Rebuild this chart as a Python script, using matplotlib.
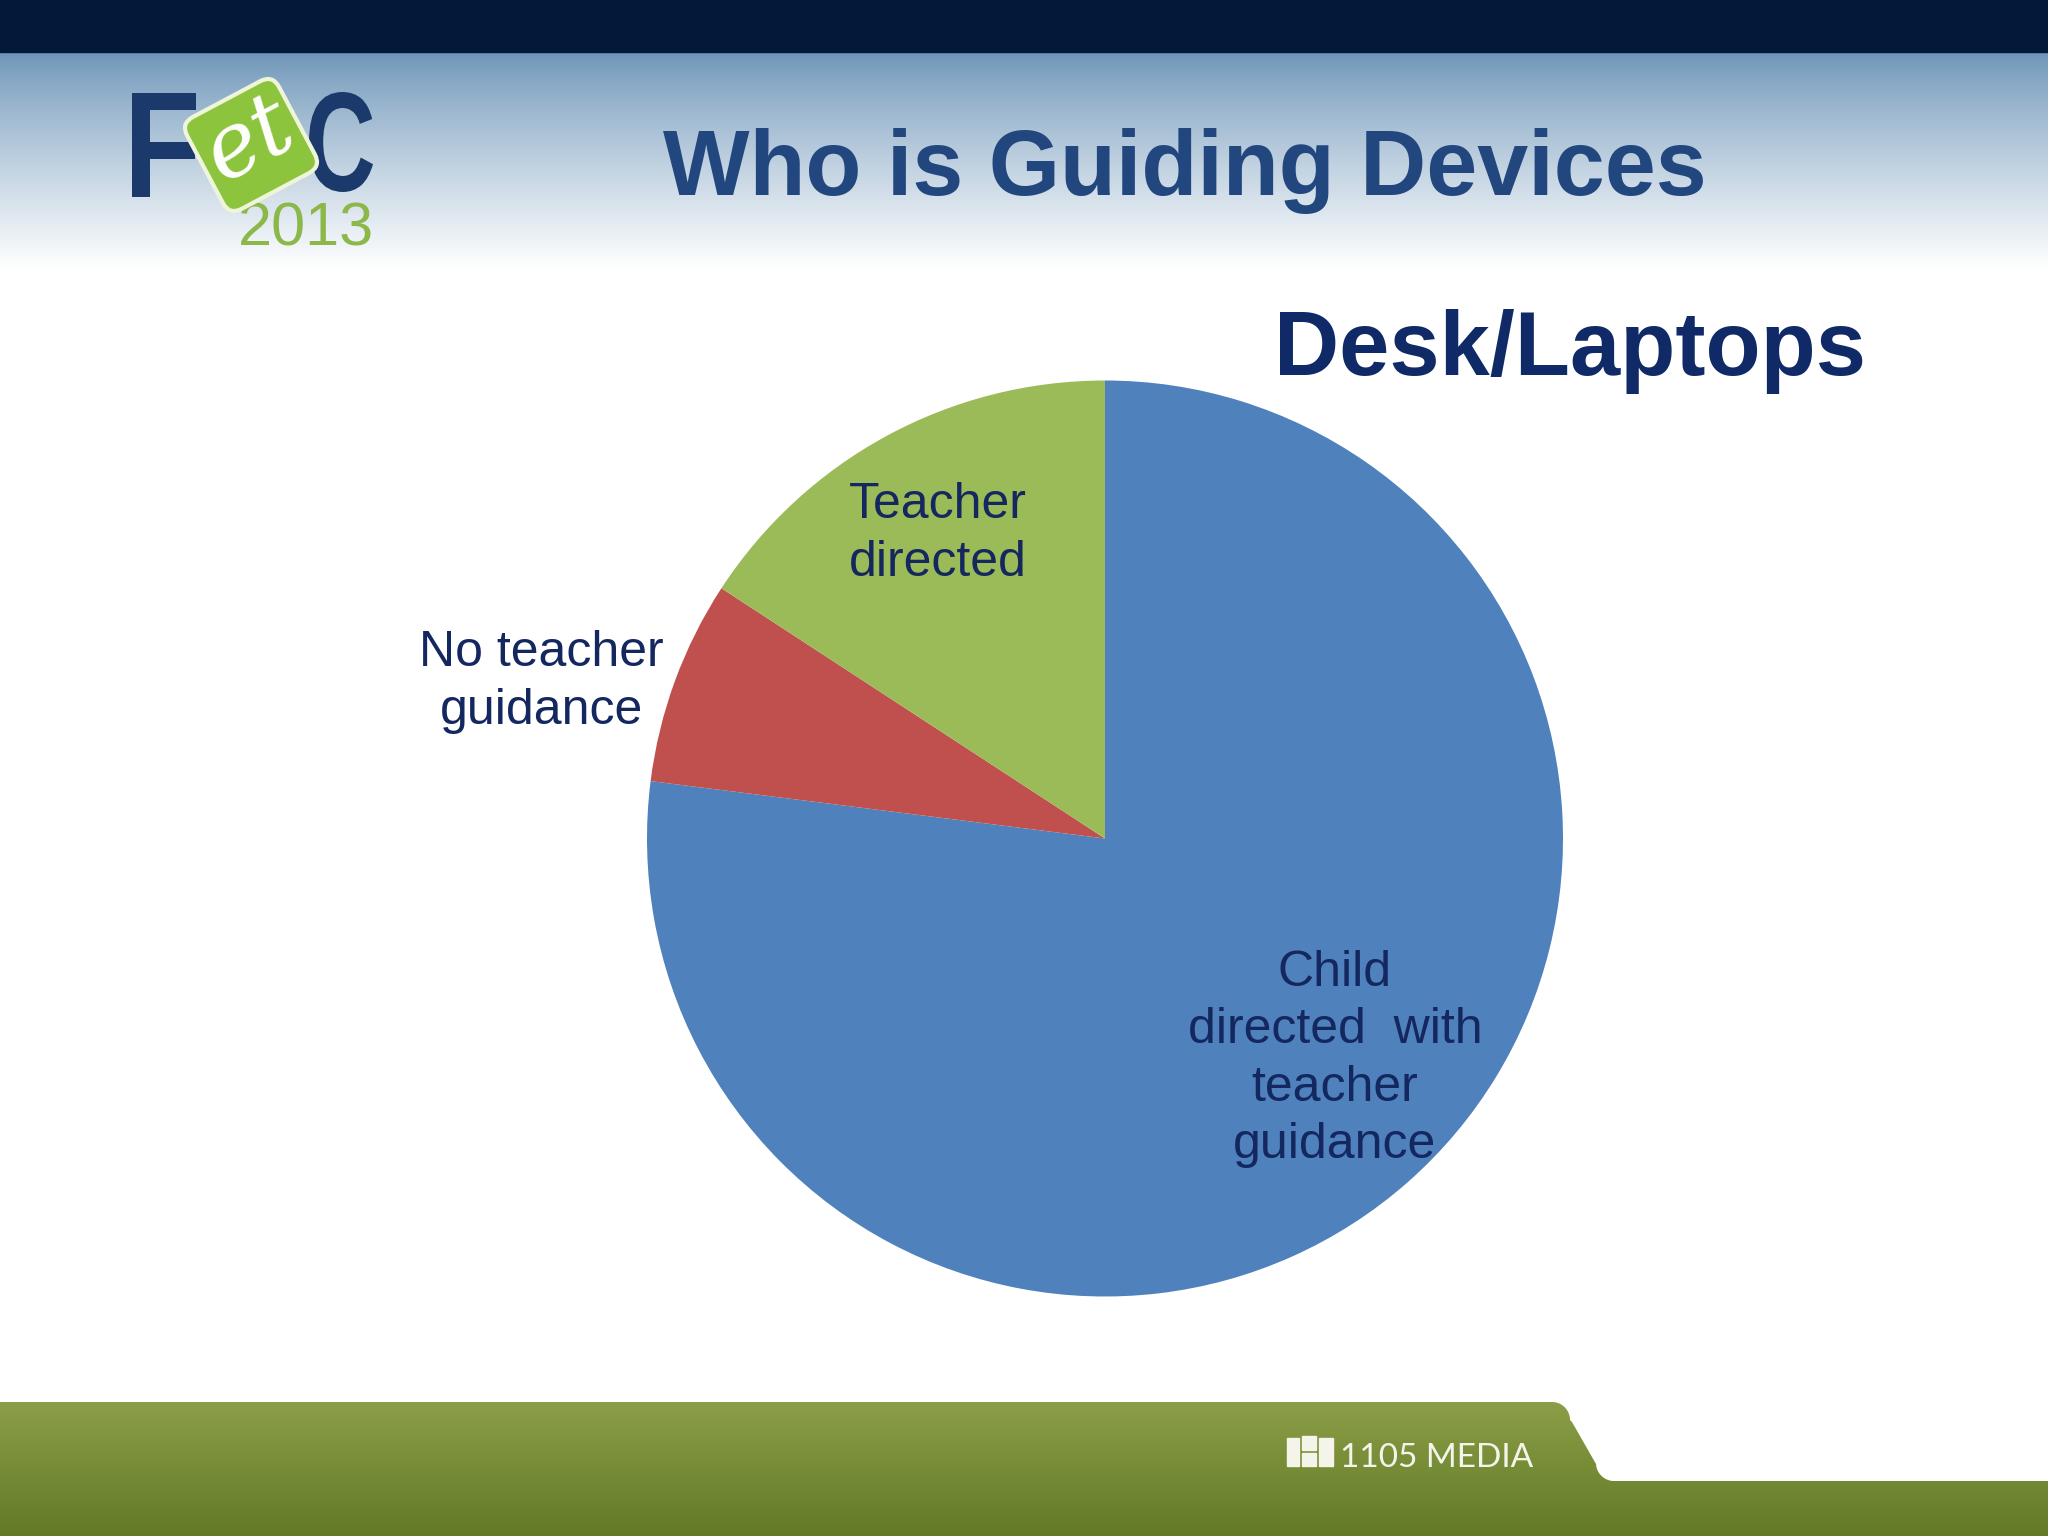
import numpy as np
import matplotlib
matplotlib.use("Agg")
import matplotlib.pyplot as plt
from matplotlib.patches import PathPatch, FancyBboxPatch, Rectangle, Polygon
from matplotlib.textpath import TextPath
from matplotlib.font_manager import FontProperties
from matplotlib.transforms import Affine2D

# pie data
categories = ["Child\ndirected  with\nteacher\nguidance", "No teacher\nguidance", "Teacher\ndirected"]
shares = [77.0, 7.2, 15.8]
colors = ["#4f81bd", "#c0504d", "#9bbb59"]

title = "Who is Guiding Devices"
chart_title = "Desk/Laptops"

# where each label sits, in pie units
label_xy = [(0.502, -0.481), (-1.231, 0.342), (-0.365, 0.665)]

W, H = 2048, 1536
fig = plt.figure(figsize=(20.48, 15.36), dpi=100)

deco = fig.add_axes([0, 0, 1, 1])
deco.set_axis_off()

# header: dark bar + fading blue band
deco.add_patch(Rectangle((0, 0), W, 52, color="#03193a", zorder=2))
rows = np.linspace(0, 1, 200) ** 0.85
top = np.array([108, 148, 184]) / 255.0
grad = top[None, :] + (1 - top[None, :]) * rows[:, None]
grad = np.repeat(grad[:, None, :], 2, axis=1)
deco.imshow(grad, extent=[0, W, 270, 51], aspect="auto", zorder=1)

# footer band with the rounded step on the right
t = np.linspace(0, 1, 30)
cx0 = 1552 + 18 * np.sin(t * np.pi / 2)
cy0 = 1402 + 18 * (1 - np.cos(t * np.pi / 2))
mid_x = np.linspace(1572, 1596, 10)
mid_y = np.linspace(1422, 1464, 10)
cx1 = 1614 - 18 * np.cos(t * np.pi / 2)
cy1 = 1481 - 18 * (1 - np.sin(t * np.pi / 2))
edge = list(zip(cx0, cy0)) + list(zip(mid_x, mid_y)) + list(zip(cx1, cy1))
foot = Polygon([(0, 1402)] + edge + [(W, 1481), (W, H), (0, H)],
               closed=True, facecolor="none", edgecolor="none")
deco.add_patch(foot)
fg = np.linspace(0, 1, 100)
ftop = np.array([140, 158, 72]) / 255.0
fbot = np.array([98, 122, 38]) / 255.0
fgrad = ftop[None, :] + (fbot - ftop)[None, :] * fg[:, None]
fgrad = np.repeat(fgrad[:, None, :], 2, axis=1)
im = deco.imshow(fgrad, extent=[0, W, H, 1400], aspect="auto", zorder=1)
im.set_clip_path(foot)

# 1105 media mark
for (x, y, w, h) in [(1287, 1438, 12, 28), (1302, 1436, 14, 14), (1302, 1453, 14, 13),
                     (1319, 1438, 14, 28)]:
    deco.add_patch(Rectangle((x, y), w, h, color="#f4f4ea", zorder=3))
deco.text(1340, 1467, "1105 MEDIA", fontsize=24, family="Lato",
          color="#f4f4ea", ha="left", va="baseline", zorder=3)


def fit_text(s, box, color, weight="bold", z=3):
    fp = FontProperties(family="Liberation Sans", weight=weight)
    p = TextPath((0, 0), s, size=100, prop=fp)
    e = p.get_extents()
    x0, y0, x1, y1 = box
    sx = (x1 - x0) / e.width
    sy = (y1 - y0) / e.height
    tr = Affine2D().translate(-e.x0, -e.y0).scale(sx, -sy).translate(x0, y1)
    deco.add_patch(PathPatch(tr.transform_path(p), facecolor=color, edgecolor="none", zorder=z))


# FETC logo
fit_text("F", (132, 93, 196, 197), "#1b3a6b")
fit_text("C", (309, 92, 373, 192), "#1b3a6b")
sq = FancyBboxPatch((-52, -52), 104, 104, boxstyle="round,pad=0,rounding_size=14",
                    facecolor="#8cc43e", edgecolor="#eef5d8", lw=3, zorder=4,
                    transform=Affine2D().rotate_deg(-28).translate(251, 145) + deco.transData)
deco.add_patch(sq)
deco.text(249, 140, "et", fontsize=64, family="DejaVu Serif", style="italic",
          color="white", ha="center", va="center", rotation=28, zorder=5)
deco.text(306, 230, "2013", fontsize=44, family="Liberation Sans", color="#8cb84a",
          ha="center", va="center", zorder=3)

deco.text(1185, 171, title, fontsize=66, family="Liberation Sans", fontweight="bold",
          color="#22477f", ha="center", va="center", zorder=3)
deco.text(1570, 352, chart_title, fontsize=65, family="Liberation Sans", fontweight="bold",
          color="#0f2a66", ha="center", va="center", zorder=3)

deco.set_xlim(0, W)
deco.set_ylim(H, 0)

# pie
cx, cy, r = 1105, 838.5, 458
ax = fig.add_axes([(cx - r) / W, (H - cy - r) / H, 2 * r / W, 2 * r / H])
wedges, texts = ax.pie(shares, colors=colors, startangle=90, counterclock=False,
                       labels=categories, wedgeprops=dict(linewidth=0))
for t, (x, y) in zip(texts, label_xy):
    t.set_position((x, y))
    t.set_ha("center")
    t.set_va("center")
    t.set_fontsize(36)
    t.set_family("Liberation Sans")
    t.set_color("#14275f")
    t.set_linespacing(1.32)
ax.set_xlim(-1, 1)
ax.set_ylim(-1, 1)
ax.set_axis_off()

fig.savefig("out.png", dpi=100)
